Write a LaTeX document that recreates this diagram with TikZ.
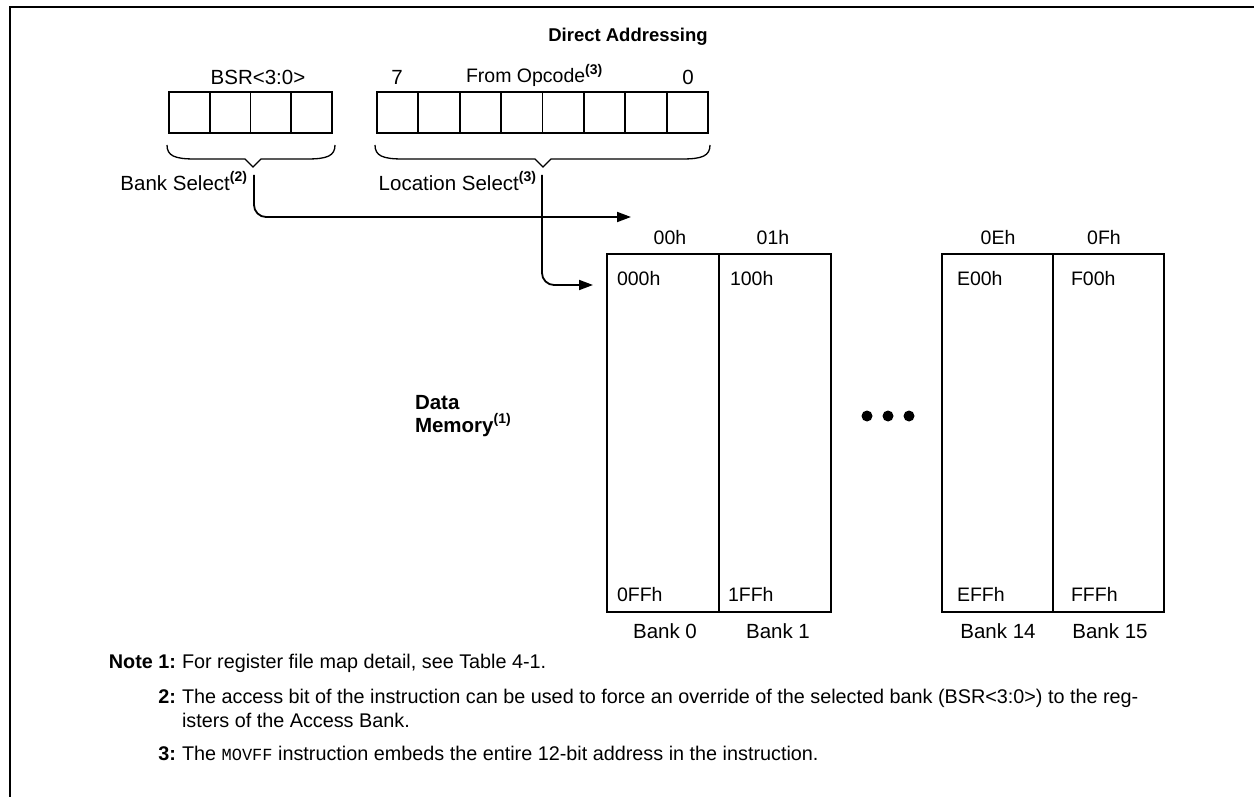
\documentclass[tikz,border=0pt]{standalone}
\usepackage{fontspec}
\setmainfont{Liberation Sans}
\setmonofont{Liberation Mono}
\usetikzlibrary{arrows.meta}
\newcommand{\supnote}[1]{\raisebox{0.42em}{\fontsize{14}{14}\selectfont\bfseries #1}}
\begin{document}
\begin{tikzpicture}[x=1pt,y=-1pt,
  lbl/.style={inner sep=0pt,outer sep=0pt,font=\fontsize{20.5}{24}\selectfont},
  addr/.style={inner sep=0pt,outer sep=0pt,font=\fontsize{19.5}{23}\selectfont},
  notetxt/.style={inner sep=0pt,outer sep=0pt,font=\fontsize{19.8}{23}\selectfont},
  notenum/.style={notetxt,font=\fontsize{19.8}{23}\selectfont\bfseries},
  cell/.style={draw,line width=1.8pt,inner sep=0pt,outer sep=0pt,minimum height=41pt},
  bankbox/.style={draw,line width=1.8pt,inner sep=0pt,outer sep=0pt,minimum height=358pt},
  bracepath/.style={line width=1.3pt},
  wire/.style={line width=1.8pt,rounded corners=12pt},
  arr/.style={-{Triangle[length=14pt,width=10pt]}},
  dotmark/.style={circle,fill,inner sep=0pt,minimum size=11pt}
]
\useasboundingbox (0,0) rectangle (1254,797);
% frame
\draw[line width=2.6pt] (10,797) -- (10,7) -- (1254,7);

% title
\node[lbl,font=\fontsize{18.5}{22}\selectfont\bfseries,anchor=base] (title) at (628,42) {Direct Addressing};

% BSR register
\foreach \i in {0,...,3}{
  \node[cell,minimum width=40.75pt] (b\i) at ({169+40.75*\i+20.375},112.5) {};
}
\node[lbl,anchor=base] (bsrlbl) at (258,85) {BSR<3:0>};

% Opcode register
\foreach \i in {0,...,7}{
  \node[cell,minimum width=41.375pt] (o\i) at ({377+41.375*\i+20.6875},112.5) {};
}
\node[lbl,anchor=base] (seven) at (397,85) {7};
\node[lbl,anchor=base] (zero) at (688,85) {0};
\node[lbl,anchor=base west,font=\fontsize{19.5}{23}\selectfont] (fromop) at (466,83) {From Opcode\supnote{(3)}};

% braces
\draw[bracepath] (167,145) .. controls (167,156) and (175,159) .. (195,159) -- (245,159) -- (253,167) -- (261,159) -- (307,159) .. controls (327,159) and (335,156) .. (335,145);
\draw[bracepath] (375,145) .. controls (375,156) and (383,159) .. (403,159) -- (535,159) -- (543,167) -- (551,159) -- (682,159) .. controls (702,159) and (710,156) .. (710,145);

\node[lbl,anchor=base east] (banksel) at (247,190) {Bank Select\supnote{(2)}};
\node[lbl,anchor=base east] (locsel) at (536,190) {Location Select\supnote{(3)}};

% banks
\node[bankbox,minimum width=112pt] (bank0) at (663,433) {};
\node[bankbox,minimum width=112pt] (bank1) at (775,433) {};
\node[bankbox,minimum width=111pt] (bank14) at (997.5,433) {};
\node[bankbox,minimum width=111pt] (bank15) at (1108.5,433) {};

% connectors
\coordinate (bsStart) at (254,175);
\coordinate (bsEnd) at (631,217);
\coordinate (lsStart) at (542,175);
\coordinate (lsEnd) at (593,285);
\draw[wire,arr] (bsStart) |- (bsEnd);
\draw[wire,arr] (lsStart) |- (lsEnd);

% bank headers
\node[addr,anchor=base] (h0) at (670,244) {00h};
\node[addr,anchor=base] (h1) at (773,244) {01h};
\node[addr,anchor=base] (h14) at (998,244) {0Eh};
\node[addr,anchor=base] (h15) at (1104,244) {0Fh};

% addresses
\node[addr,anchor=base west] (a0) at (617,285) {000h};
\node[addr,anchor=base west] (a1) at (730,285) {100h};
\node[addr,anchor=base west] (a14) at (957,285) {E00h};
\node[addr,anchor=base west] (a15) at (1071,285) {F00h};
\node[addr,anchor=base west] (e0) at (617,601) {0FFh};
\node[addr,anchor=base west] (e1) at (728,601) {1FFh};
\node[addr,anchor=base west] (e14) at (957,601) {EFFh};
\node[addr,anchor=base west] (e15) at (1071,601) {FFFh};

% bank labels
\node[lbl,anchor=base] (l0) at (665,638) {Bank 0};
\node[lbl,anchor=base] (l1) at (778,638) {Bank 1};
\node[lbl,anchor=base] (l14) at (998,638) {Bank 14};
\node[lbl,anchor=base] (l15) at (1110,638) {Bank 15};

% dots
\node[dotmark] (d1) at (867,416) {};
\node[dotmark] (d2) at (888,416) {};
\node[dotmark] (d3) at (909,416) {};

% data memory
\node[lbl,font=\fontsize{20.5}{24}\selectfont\bfseries,anchor=base west] (dm1) at (415,409) {Data};
\node[lbl,font=\fontsize{20.5}{24}\selectfont\bfseries,anchor=base west] (dm2) at (415,432) {Memory\supnote{(1)}};

% notes
\node[notenum,anchor=base east] (n1) at (176,668) {Note 1:};
\node[notetxt,anchor=base west] (t1) at (182,668) {For register file map detail, see Table 4-1.};
\node[notenum,anchor=base east] (n2) at (176,703) {2:};
\node[notetxt,anchor=base west] (t2) at (182,703) {The access bit of the instruction can be used to force an override of the selected bank (BSR<3:0>) to the reg-};
\node[notetxt,anchor=base west] (t2b) at (182,727) {isters of the Access Bank.};
\node[notenum,anchor=base east] (n3) at (176,760) {3:};
\node[notetxt,anchor=base west] (t3) at (182,760) {The {\fontsize{17}{20}\selectfont\ttfamily MOVFF} instruction embeds the entire 12-bit address in the instruction.};
\end{tikzpicture}
\end{document}
